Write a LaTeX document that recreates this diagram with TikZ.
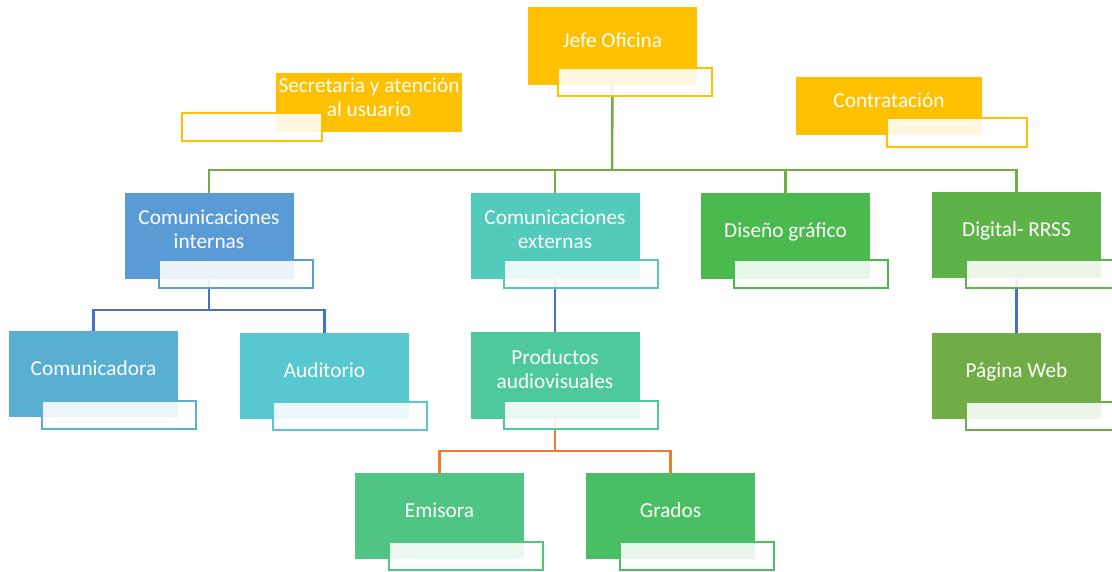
\documentclass[tikz,border=0pt]{standalone}
\usepackage{fontspec}
\setmainfont{Carlito}
\usepackage{xcolor}
\usepackage{tikz}

\definecolor{oro}{HTML}{FFC000}
\definecolor{azulI}{HTML}{5B9BD5}
\definecolor{turquesa}{HTML}{52CBBA}
\definecolor{verdeD}{HTML}{4AB94E}
\definecolor{verdeR}{HTML}{5DB348}
\definecolor{celeste}{HTML}{58AFD2}
\definecolor{aguamarina}{HTML}{58C8D0}
\definecolor{verdeP}{HTML}{4EC99B}
\definecolor{verdeW}{HTML}{70AD47}
\definecolor{verdeE}{HTML}{4FC483}
\definecolor{verdeG}{HTML}{4ABE64}
\definecolor{lineaV}{HTML}{70AD47}
\definecolor{lineaA}{HTML}{4472C4}
\definecolor{lineaN}{HTML}{ED7D31}

\begin{document}
\begin{tikzpicture}[x=1pt,y=-1pt,
    caja/.style={rectangle,text=white,font=\fontsize{21.3}{24}\selectfont,align=center,
      minimum width=169pt,minimum height=86pt,inner sep=0pt,text height=3pt,text depth=0pt},
    caja2/.style={caja,text height=26pt},
    campo/.style={rectangle,draw,line width=2pt,fill=white,fill opacity=0.88,
      minimum width=154pt,minimum height=28pt,inner sep=0pt},
    enlace/.style={line width=2.5pt}]
        \useasboundingbox (0,0) rectangle (1112,572);
        % Nodes
        \node(jefe) at (612.5,46)[caja,fill=oro,minimum height=78pt] {Jefe Oficina};
        \node(secretaria) at (369,102.5)[caja2,fill=oro,minimum width=186pt,minimum height=59pt,text height=29pt] {Secretaria y atención\\al usuario};
        \node(contratacion) at (889,106)[caja,fill=oro,minimum width=186pt,minimum height=58pt] {Contratación};
        \node(internas) at (209,236)[caja2,fill=azulI] {Comunicaciones\\internas};
        \node(externas) at (555,236)[caja2,fill=turquesa] {Comunicaciones\\externas};
        \node(diseno) at (785.5,236)[caja,fill=verdeD] {Diseño gráfico};
        \node(digital) at (1016.5,235.5)[caja,fill=verdeR] {Digital- RRSS};
        \node(comunicadora) at (93.5,374)[caja,fill=celeste] {Comunicadora};
        \node(auditorio) at (324.5,376)[caja,fill=aguamarina] {Auditorio};
        \node(productos) at (555,375.5)[caja2,fill=verdeP] {Productos\\audiovisuales};
        \node(web) at (1016.5,376)[caja,fill=verdeW] {Página Web};
        \node(emisora) at (439.5,516)[caja,fill=verdeE] {Emisora};
        \node(grados) at (670.5,516)[caja,fill=verdeG] {Grados};
        % Links
        \coordinate(bus) at (612,170);
        \coordinate(busI) at (209,310);
        \coordinate(busP) at (555,451);
        \draw[enlace,lineaV] (jefe.south) -- (bus);
        \draw[enlace,lineaV] (internas.north) |- (bus) -| (digital.north);
        \draw[enlace,lineaV] (bus) -| (externas.north);
        \draw[enlace,lineaV] (bus) -| (diseno.north);
        \draw[enlace,lineaA] (internas.south) -- (busI);
        \draw[enlace,lineaA] (comunicadora.north) |- (busI) -| (auditorio.north);
        \draw[enlace,lineaA] (externas.south) -- (productos.north);
        \draw[enlace,lineaA] (digital.south) -- (web.north);
        \draw[enlace,lineaN] (productos.south) -- (busP);
        \draw[enlace,lineaN] (emisora.north) |- (busP) -| (grados.north);
        % Text fields
        \node(jefe2) at (635,82)[campo,draw=oro] {};
        \node(secretaria2) at (252,127)[campo,draw=oro,minimum width=140pt] {};
        \node(contratacion2) at (957,132.5)[campo,draw=oro,minimum width=140pt,minimum height=29pt] {};
        \node(internas2) at (235.5,274)[campo,draw=azulI] {};
        \node(externas2) at (581,274)[campo,draw=turquesa] {};
        \node(diseno2) at (811,274)[campo,draw=verdeD] {};
        \node(digital2) at (1043,274)[campo,draw=verdeR] {};
        \node(comunicadora2) at (119,415)[campo,draw=celeste] {};
        \node(auditorio2) at (350,416)[campo,draw=aguamarina] {};
        \node(productos2) at (581,415)[campo,draw=verdeP] {};
        \node(web2) at (1043,416)[campo,draw=verdeW] {};
        \node(emisora2) at (465.5,556)[campo,draw=verdeE] {};
        \node(grados2) at (696.5,556)[campo,draw=verdeG] {};
    \end{tikzpicture}
\end{document}
